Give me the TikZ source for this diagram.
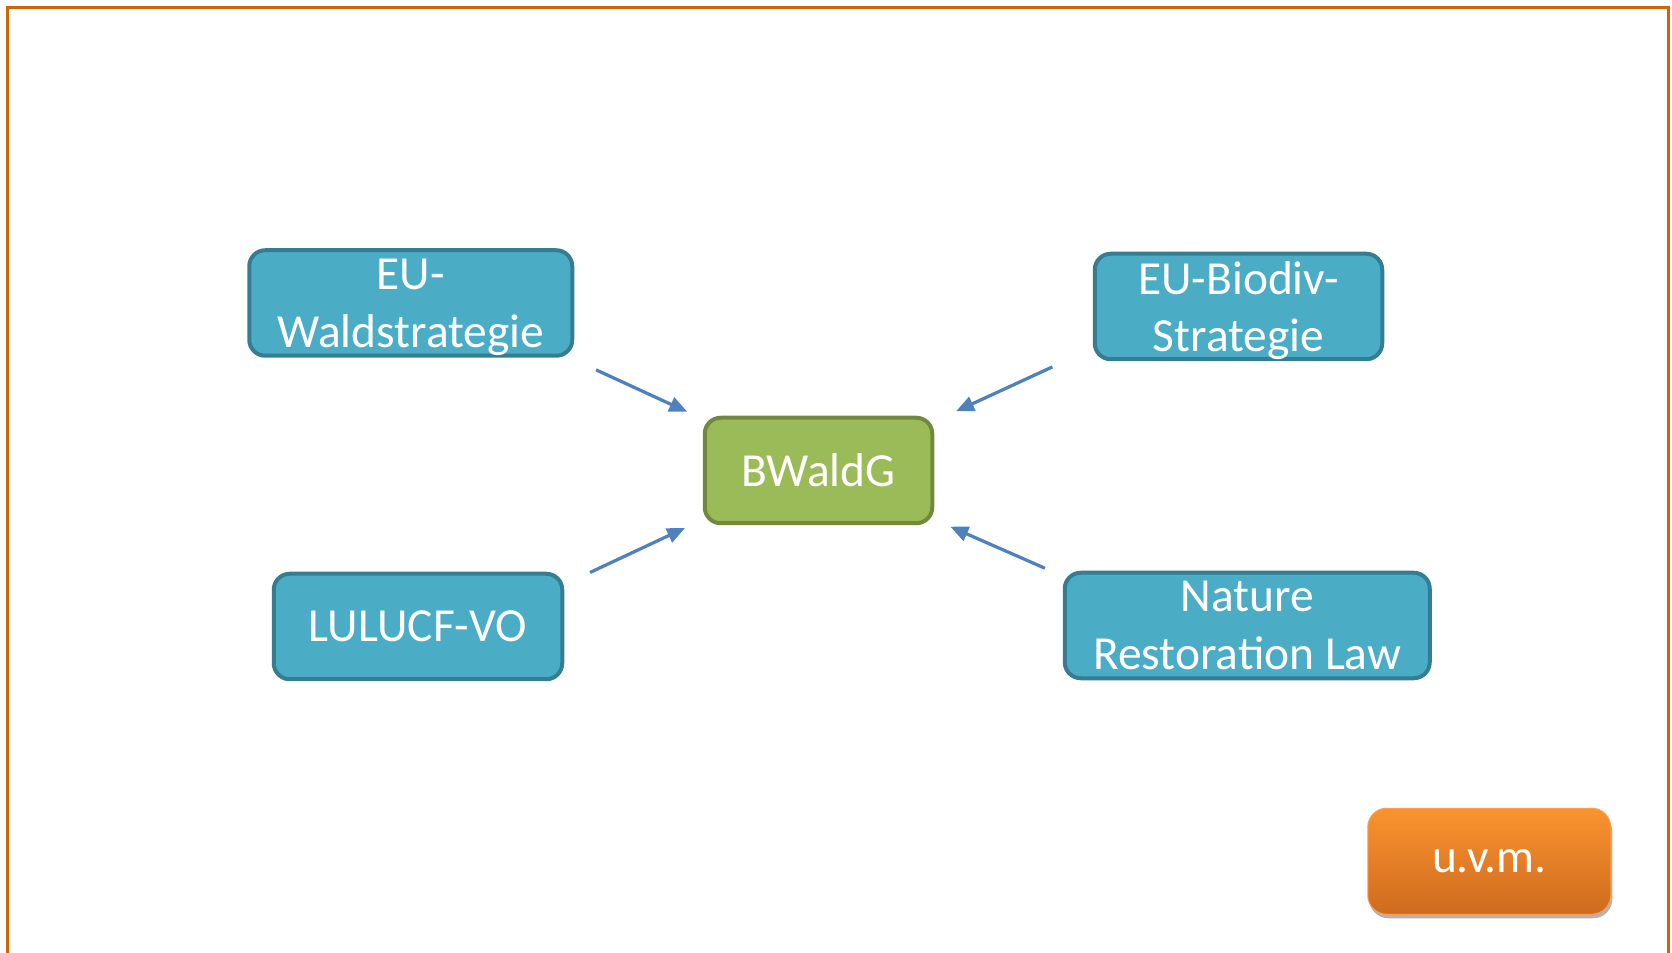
\documentclass[tikz,border=0pt]{standalone}
\usepackage{fontspec}
\setmainfont{Carlito}
\usepackage{xcolor}
\usetikzlibrary{positioning, arrows.meta, shadows}

\definecolor{eublue}{HTML}{4BACC6}
\definecolor{eubluedark}{HTML}{357D91}
\definecolor{waldgreen}{HTML}{9BBB59}
\definecolor{waldgreendark}{HTML}{71893F}
\definecolor{arrowblue}{HTML}{4F81BD}
\definecolor{frameorange}{HTML}{CC6600}
\definecolor{moretop}{HTML}{FA932F}
\definecolor{morebottom}{HTML}{CE6B1E}
\definecolor{moreline}{HTML}{F7A052}

\begin{document}
\begin{tikzpicture}[
    block/.style={rectangle, rounded corners=0.32cm, line width=0.08cm, minimum height=2.11cm, align=center, text=white, text depth=0pt, font=\fontsize{27}{32.8}\selectfont},
    eu/.style={block, draw=eubluedark, fill=eublue},
    central/.style={block, draw=waldgreendark, fill=waldgreen},
    more/.style={block, draw=moreline, line width=0.02cm, rounded corners=0.38cm, top color=moretop, bottom color=morebottom, drop shadow={shadow xshift=0.03cm, shadow yshift=-0.08cm, opacity=0.3, fill=black}},
    frame/.style={draw=frameorange, line width=0.06cm},
    arrow/.style={-{Triangle[length=0.36cm, width=0.3cm]}, line width=0.065cm, draw=arrowblue, fill=arrowblue}
]
    \useasboundingbox (0,0) rectangle (33.44,-19.06);
    \draw[frame] (0.15,-0.15) rectangle (33.37,-19.6);
    \node[central, minimum width=4.55cm] (bwald) at (16.37,-9.41) {BWaldG};
    \node[eu, minimum width=6.46cm, above left=1.16cm and 2.57cm of bwald] (wald) {EU-\\Waldstrategie};
    \node[eu, minimum width=5.75cm, above right=1.09cm and 3.17cm of bwald] (biodiv) {EU-Biodiv-\\Strategie};
    \node[eu, minimum width=5.77cm, below left=0.93cm and 2.77cm of bwald] (lulucf) {LULUCF-VO};
    \node[eu, minimum width=7.30cm, below right=0.91cm and 2.57cm of bwald] (nature) {Nature\\Restoration Law};
    \node[more, minimum width=4.86cm, minimum height=2.12cm, below=2.55cm of nature, xshift=4.84cm] (uvm) {u.v.m.};
    \draw[arrow, shorten <=0.58cm, shorten >=0.34cm] (wald.-19) -- (bwald.156);
    \draw[arrow, shorten <=0.89cm, shorten >=0.48cm] (biodiv.196) -- (bwald.23);
    \draw[arrow, shorten <=0.57cm, shorten >=0.39cm] (lulucf.16) -- (bwald.203);
    \draw[arrow, shorten <=0.39cm, shorten >=0.35cm] (nature.165) -- (bwald.-23);
\end{tikzpicture}
\end{document}
